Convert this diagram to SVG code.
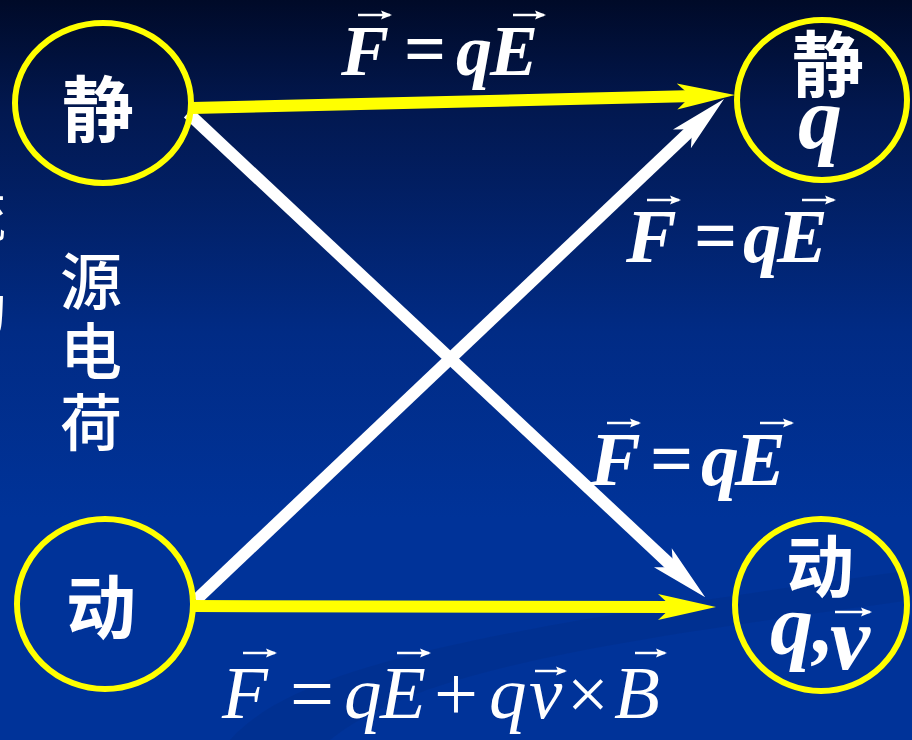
<svg xmlns="http://www.w3.org/2000/svg" width="912" height="740" viewBox="0 0 912 740">
<defs>
<linearGradient id="bg" x1="0" y1="0" x2="0" y2="1">
<stop offset="0" stop-color="#000a28"/>
<stop offset="0.15" stop-color="#021850"/>
<stop offset="0.45" stop-color="#012b85"/>
<stop offset="0.7" stop-color="#003399"/>
<stop offset="1" stop-color="#003399"/>
</linearGradient>
<marker id="ah-y" markerUnits="userSpaceOnUse" markerWidth="60" markerHeight="30" viewBox="0 -15 60 30" refX="18" refY="0" orient="auto" overflow="visible">
<path d="M0,-13 L58,0 L0,13 L14,0 Z" fill="#ffff00"/>
</marker>
<marker id="ah-w" markerUnits="userSpaceOnUse" markerWidth="60" markerHeight="30" viewBox="0 -15 60 30" refX="18" refY="0" orient="auto" overflow="visible">
<path d="M0,-13 L58,0 L0,13 L14,0 Z" fill="#ffffff"/>
</marker>
<marker id="vec" markerUnits="userSpaceOnUse" markerWidth="12" markerHeight="10" viewBox="0 -5 12 10" refX="9" refY="0" orient="auto" overflow="visible">
<path d="M0,-4.5 L11,0 L0,4.5 L2,0 Z" fill="#ffffff"/>
</marker>
</defs>
<style>
.ring{fill:none;stroke:#ffff00;stroke-width:6}
.cjk{font-family:"Noto Sans CJK SC","Noto Sans",sans-serif;fill:#ffffff;text-anchor:middle}
.big{font-weight:bold}
.mb{font-family:"Liberation Serif","Times New Roman",serif;font-style:italic;font-weight:bold;fill:#ffffff}
.mr{font-family:"Liberation Serif","Times New Roman",serif;font-style:italic;fill:#ffffff}
.up{font-family:"Liberation Serif","Times New Roman",serif;fill:#ffffff}
.yl{stroke:#ffff00;stroke-width:12;fill:none}
.wl{stroke:#ffffff;stroke-width:12;fill:none}
.va{stroke:#ffffff;stroke-width:2.5;fill:none;marker-end:url(#vec)}
</style>
<rect x="0" y="0" width="912" height="740" fill="url(#bg)"/>
<path d="M230,740 C300,660 520,625 912,570 L912,600 C620,640 420,668 330,740 Z" fill="#00286f" opacity="0.18"/>

<g id="cut-text">
<text class="cjk" x="-22" y="236" font-size="56">流</text>
<text class="cjk" x="-22" y="330" font-size="56">动</text>
</g>

<g id="source-label">
<text class="cjk" x="91" y="305" font-size="62" font-weight="500">源</text>
<text class="cjk" x="91" y="375" font-size="62" font-weight="500">电</text>
<text class="cjk" x="91" y="446" font-size="62" font-weight="500">荷</text>
</g>

<g id="connectors">
<line class="wl" x1="188" y1="113" x2="676" y2="570" marker-end="url(#ah-w)"/>
<line class="wl" x1="196" y1="600" x2="695" y2="126.5" marker-end="url(#ah-w)"/>
<line class="yl" x1="192" y1="108" x2="695" y2="96" marker-end="url(#ah-y)"/>
<line class="yl" x1="192" y1="606" x2="676" y2="607" marker-end="url(#ah-y)"/>

<g id="label-top">
<text class="mb" x="341" y="75" font-size="72">F</text>
<text class="up" x="404" y="74" font-size="74" font-weight="bold">=</text>
<text class="mb" x="456" y="75" font-size="72">q</text>
<text class="mb" x="490" y="75" font-size="72">E</text>
<path class="va" d="M358,15 H390"/>
<path class="va" d="M513,15 H544"/>
</g>

<g id="label-mid1">
<text class="mb" x="626" y="262" font-size="76">F</text>
<text class="up" x="694" y="261" font-size="76" font-weight="bold">=</text>
<text class="mb" x="743" y="262" font-size="76">q</text>
<text class="mb" x="777" y="262" font-size="76">E</text>
<path class="va" d="M647,200 H679"/>
<path class="va" d="M802,200 H834"/>
</g>

<g id="label-mid2">
<text class="mb" x="590" y="485" font-size="76">F</text>
<text class="up" x="650" y="484" font-size="76" font-weight="bold">=</text>
<text class="mb" x="701" y="485" font-size="76">q</text>
<text class="mb" x="735" y="485" font-size="76">E</text>
<path class="va" d="M607,423 H639"/>
<path class="va" d="M760,423 H792"/>
</g>

<g id="label-bottom">
<text class="mr" x="222" y="718" font-size="75">F</text>
<text class="up" x="290" y="720" font-size="78">=</text>
<text class="mr" x="344" y="718" font-size="75">q</text>
<text class="mr" x="380" y="718" font-size="75">E</text>
<text class="up" x="434" y="720" font-size="78">+</text>
<text class="mr" x="489" y="718" font-size="75">q</text>
<text class="mr" x="529" y="718" font-size="75">v</text>
<text class="up" x="567" y="719" font-size="74">×</text>
<text class="mr" x="614" y="718" font-size="75">B</text>
<path class="va" d="M243,653 H275"/>
<path class="va" d="M397,653 H429"/>
<path class="va" d="M535,671 H565"/>
<path class="va" d="M635,653 H665"/>
</g>
</g>

<g id="node-static-source">
<ellipse class="ring" cx="103" cy="103" rx="88" ry="80"/>
<text class="cjk big" x="98" y="136" font-size="72">静</text>
</g>

<g id="node-moving-source">
<ellipse class="ring" cx="105" cy="604" rx="88" ry="85"/>
<text class="cjk big" x="101" y="634" font-size="70">动</text>
</g>

<g id="node-static-q">
<ellipse class="ring" cx="822" cy="100" rx="85" ry="80"/>
<text class="cjk big" x="828" y="91" font-size="72">静</text>
<text class="mb" x="820" y="148" font-size="88" text-anchor="middle">q</text>
</g>

<g id="node-moving-q">
<ellipse class="ring" cx="821" cy="605" rx="86" ry="86"/>
<text class="cjk big" x="820" y="592" font-size="68">动</text>
<text class="mb" x="770" y="653" font-size="86">q,</text>
<text class="mb" x="830" y="669" font-size="90">v</text>
<path class="va" d="M835,612 H870"/>
</g>
</svg>
